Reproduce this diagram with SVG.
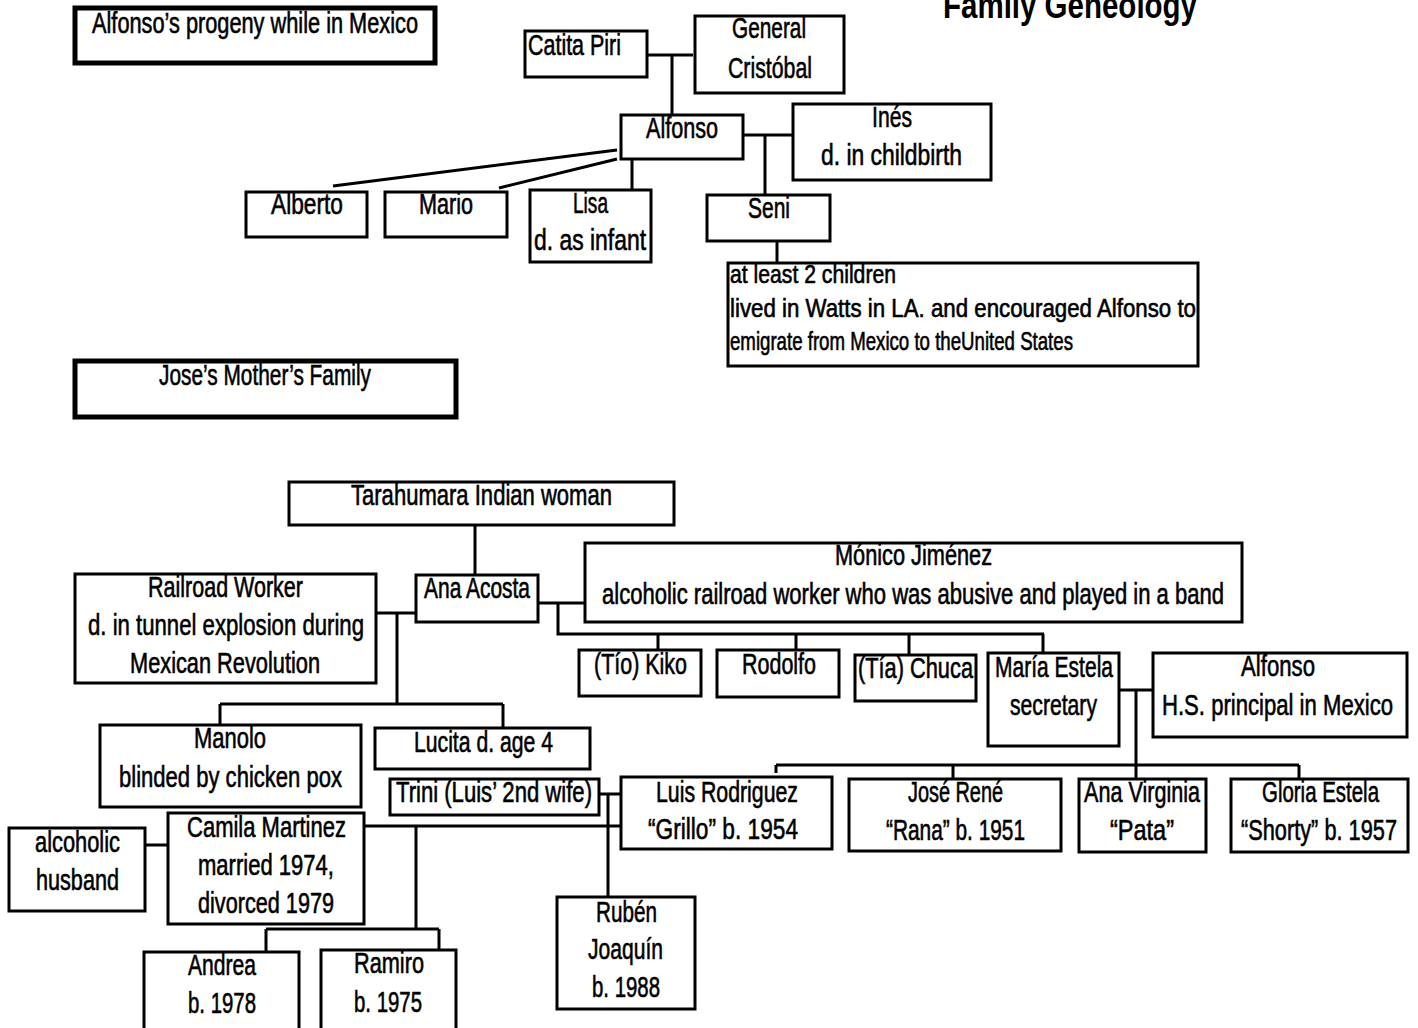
<svg xmlns="http://www.w3.org/2000/svg" width="1418" height="1028" viewBox="0 0 1418 1028">
<style>
.b{fill:#fff;stroke:#000;stroke-width:3}
.h{fill:#fff;stroke:#000;stroke-width:5}
.c{fill:none;stroke:#000;stroke-width:3}
text{font-family:"Liberation Sans Narrow","Liberation Sans",Arial,sans-serif;font-size:29px;fill:#000;stroke:#000;stroke-width:0.6}
.s{font-size:25px}
.ti{font-size:36px;font-weight:bold;stroke-width:0}
</style>
<rect width="1418" height="1028" fill="#fff"/>
<g id="connectors">
<path class="c" d="M647 55H693M672 55V115"/>
<path class="c" d="M617 150L333 186M617 159L499 188M632 159V190"/>
<path class="c" d="M743 135H793M765 135V195M777 241V263"/>
<path class="c" d="M475 526V575M376 613H416M397 613V704M220 704H503M220 704V725M503 704V728"/>
<path class="c" d="M538 603H585M558 603V634H1044M658 634V650M796 634V650M909 634V655M1043 634V653"/>
<path class="c" d="M1119 690H1153M1136 690V778M776 765H1299M776 765V773M953 765V779M1299 765V779"/>
<path class="c" d="M599 794H620M608 794V897M364 826H620M416 826V929M266 929H439M266 929V952M439 929V950M145 845H168"/>
</g>
<g id="title-progeny"><rect class="h" x="75" y="8" width="360" height="55"/><text x="92" y="33" textLength="326" lengthAdjust="spacingAndGlyphs">Alfonso’s progeny while in Mexico</text></g>
<g id="title-family"><text class="ti" x="943" y="18" textLength="254" lengthAdjust="spacingAndGlyphs">Family Geneology</text></g>
<g id="catita"><rect class="b" x="525" y="31" width="122" height="46"/><text x="528" y="55" textLength="93" lengthAdjust="spacingAndGlyphs">Catita Piri</text></g>
<g id="general"><rect class="b" x="695" y="16" width="149" height="77"/><text x="732" y="38" textLength="74" lengthAdjust="spacingAndGlyphs">General</text><text x="728" y="78" textLength="84" lengthAdjust="spacingAndGlyphs">Cristóbal</text></g>
<g id="alfonso"><rect class="b" x="621" y="115" width="122" height="44"/><text x="646" y="138" textLength="72" lengthAdjust="spacingAndGlyphs">Alfonso</text></g>
<g id="ines"><rect class="b" x="793" y="104" width="198" height="76"/><text x="872" y="127" textLength="40" lengthAdjust="spacingAndGlyphs">Inés</text><text x="821" y="165" textLength="141" lengthAdjust="spacingAndGlyphs">d. in childbirth</text></g>
<g id="seni"><rect class="b" x="707" y="195" width="123" height="46"/><text x="748" y="218" textLength="42" lengthAdjust="spacingAndGlyphs">Seni</text></g>
<g id="alberto"><rect class="b" x="246" y="192" width="121" height="45"/><text x="271" y="214" textLength="72" lengthAdjust="spacingAndGlyphs">Alberto</text></g>
<g id="mario"><rect class="b" x="385" y="192" width="122" height="45"/><text x="419" y="214" textLength="54" lengthAdjust="spacingAndGlyphs">Mario</text></g>
<g id="lisa"><rect class="b" x="530" y="190" width="121" height="72"/><text x="573" y="213" textLength="35" lengthAdjust="spacingAndGlyphs">Lisa</text><text x="534" y="250" textLength="112" lengthAdjust="spacingAndGlyphs">d.  as infant</text></g>
<g id="seni-note"><rect class="b" x="728" y="263" width="470" height="103"/><text class="s" x="730" y="283" textLength="166" lengthAdjust="spacingAndGlyphs">at least 2 children</text><text class="s" x="730" y="317" textLength="466" lengthAdjust="spacingAndGlyphs">lived in Watts in LA. and encouraged Alfonso to</text><text class="s" x="730" y="350" textLength="343" lengthAdjust="spacingAndGlyphs">emigrate from Mexico to theUnited States</text></g>
<g id="title-mother"><rect class="h" x="75" y="361" width="381" height="56"/><text x="159" y="385" textLength="212" lengthAdjust="spacingAndGlyphs">Jose’s Mother’s Family</text></g>
<g id="tarahumara"><rect class="b" x="289" y="482" width="385" height="43"/><text x="351" y="505" textLength="261" lengthAdjust="spacingAndGlyphs">Tarahumara Indian woman</text></g>
<g id="railroad"><rect class="b" x="75" y="574" width="301" height="109"/><text x="148" y="597" textLength="155" lengthAdjust="spacingAndGlyphs">Railroad Worker</text><text x="88" y="635" textLength="276" lengthAdjust="spacingAndGlyphs">d. in tunnel explosion during</text><text x="130" y="673" textLength="190" lengthAdjust="spacingAndGlyphs">Mexican Revolution</text></g>
<g id="ana"><rect class="b" x="416" y="575" width="122" height="47"/><text x="424" y="598" textLength="106" lengthAdjust="spacingAndGlyphs">Ana Acosta</text></g>
<g id="monico"><rect class="b" x="585" y="543" width="657" height="79"/><text x="835" y="565" textLength="157" lengthAdjust="spacingAndGlyphs">Mónico Jiménez</text><text x="602" y="604" textLength="622" lengthAdjust="spacingAndGlyphs">alcoholic railroad worker who was abusive and played in a band</text></g>
<g id="kiko"><rect class="b" x="579" y="650" width="122" height="46"/><text x="594" y="674" textLength="93" lengthAdjust="spacingAndGlyphs">(Tío) Kiko</text></g>
<g id="rodolfo"><rect class="b" x="717" y="650" width="122" height="47"/><text x="742" y="674" textLength="74" lengthAdjust="spacingAndGlyphs">Rodolfo</text></g>
<g id="chuca"><rect class="b" x="855" y="655" width="121" height="46"/><text x="858" y="678" textLength="115" lengthAdjust="spacingAndGlyphs">(Tía) Chuca</text></g>
<g id="maria"><rect class="b" x="988" y="653" width="131" height="93"/><text x="995" y="677" textLength="118" lengthAdjust="spacingAndGlyphs">María Estela</text><text x="1010" y="715" textLength="87" lengthAdjust="spacingAndGlyphs">secretary</text></g>
<g id="alfonso2"><rect class="b" x="1153" y="653" width="254" height="84"/><text x="1241" y="676" textLength="74" lengthAdjust="spacingAndGlyphs">Alfonso</text><text x="1162" y="715" textLength="231" lengthAdjust="spacingAndGlyphs">H.S. principal in Mexico</text></g>
<g id="manolo"><rect class="b" x="100" y="725" width="261" height="82"/><text x="194" y="748" textLength="72" lengthAdjust="spacingAndGlyphs">Manolo</text><text x="119" y="787" textLength="223" lengthAdjust="spacingAndGlyphs">blinded by chicken pox</text></g>
<g id="lucita"><rect class="b" x="375" y="728" width="215" height="41"/><text x="414" y="752" textLength="139" lengthAdjust="spacingAndGlyphs">Lucita d. age 4</text></g>
<g id="trini"><rect class="b" x="390" y="779" width="209" height="36"/><text x="396" y="802" textLength="196" lengthAdjust="spacingAndGlyphs">Trini (Luis’ 2nd wife)</text></g>
<g id="luis"><rect class="b" x="621" y="777" width="211" height="72"/><text x="656" y="802" textLength="142" lengthAdjust="spacingAndGlyphs">Luis Rodriguez</text><text x="648" y="839" textLength="150" lengthAdjust="spacingAndGlyphs">“Grillo” b. 1954</text></g>
<g id="jose"><rect class="b" x="849" y="779" width="212" height="72"/><text x="908" y="802" textLength="95" lengthAdjust="spacingAndGlyphs">José René</text><text x="886" y="840" textLength="139" lengthAdjust="spacingAndGlyphs">“Rana” b. 1951</text></g>
<g id="anavirginia"><rect class="b" x="1079" y="779" width="127" height="73"/><text x="1084" y="802" textLength="116" lengthAdjust="spacingAndGlyphs">Ana Virginia</text><text x="1110" y="840" textLength="64" lengthAdjust="spacingAndGlyphs">“Pata”</text></g>
<g id="gloria"><rect class="b" x="1231" y="779" width="177" height="73"/><text x="1262" y="802" textLength="117" lengthAdjust="spacingAndGlyphs">Gloria Estela</text><text x="1241" y="840" textLength="156" lengthAdjust="spacingAndGlyphs">“Shorty” b. 1957</text></g>
<g id="camila"><rect class="b" x="168" y="813" width="196" height="111"/><text x="187" y="837" textLength="159" lengthAdjust="spacingAndGlyphs">Camila Martinez</text><text x="198" y="875" textLength="136" lengthAdjust="spacingAndGlyphs">married 1974,</text><text x="198" y="913" textLength="136" lengthAdjust="spacingAndGlyphs">divorced 1979</text></g>
<g id="husband"><rect class="b" x="9" y="828" width="136" height="83"/><text x="35" y="852" textLength="85" lengthAdjust="spacingAndGlyphs">alcoholic</text><text x="36" y="890" textLength="83" lengthAdjust="spacingAndGlyphs">husband</text></g>
<g id="ruben"><rect class="b" x="557" y="897" width="138" height="112"/><text x="596" y="922" textLength="61" lengthAdjust="spacingAndGlyphs">Rubén</text><text x="588" y="959" textLength="75" lengthAdjust="spacingAndGlyphs">Joaquín</text><text x="592" y="997" textLength="68" lengthAdjust="spacingAndGlyphs">b. 1988</text></g>
<g id="andrea"><rect class="b" x="144" y="952" width="155" height="90"/><text x="188" y="975" textLength="68" lengthAdjust="spacingAndGlyphs">Andrea</text><text x="188" y="1013" textLength="68" lengthAdjust="spacingAndGlyphs">b. 1978</text></g>
<g id="ramiro"><rect class="b" x="321" y="950" width="135" height="92"/><text x="354" y="973" textLength="70" lengthAdjust="spacingAndGlyphs">Ramiro</text><text x="354" y="1012" textLength="68" lengthAdjust="spacingAndGlyphs">b. 1975</text></g>
</svg>
